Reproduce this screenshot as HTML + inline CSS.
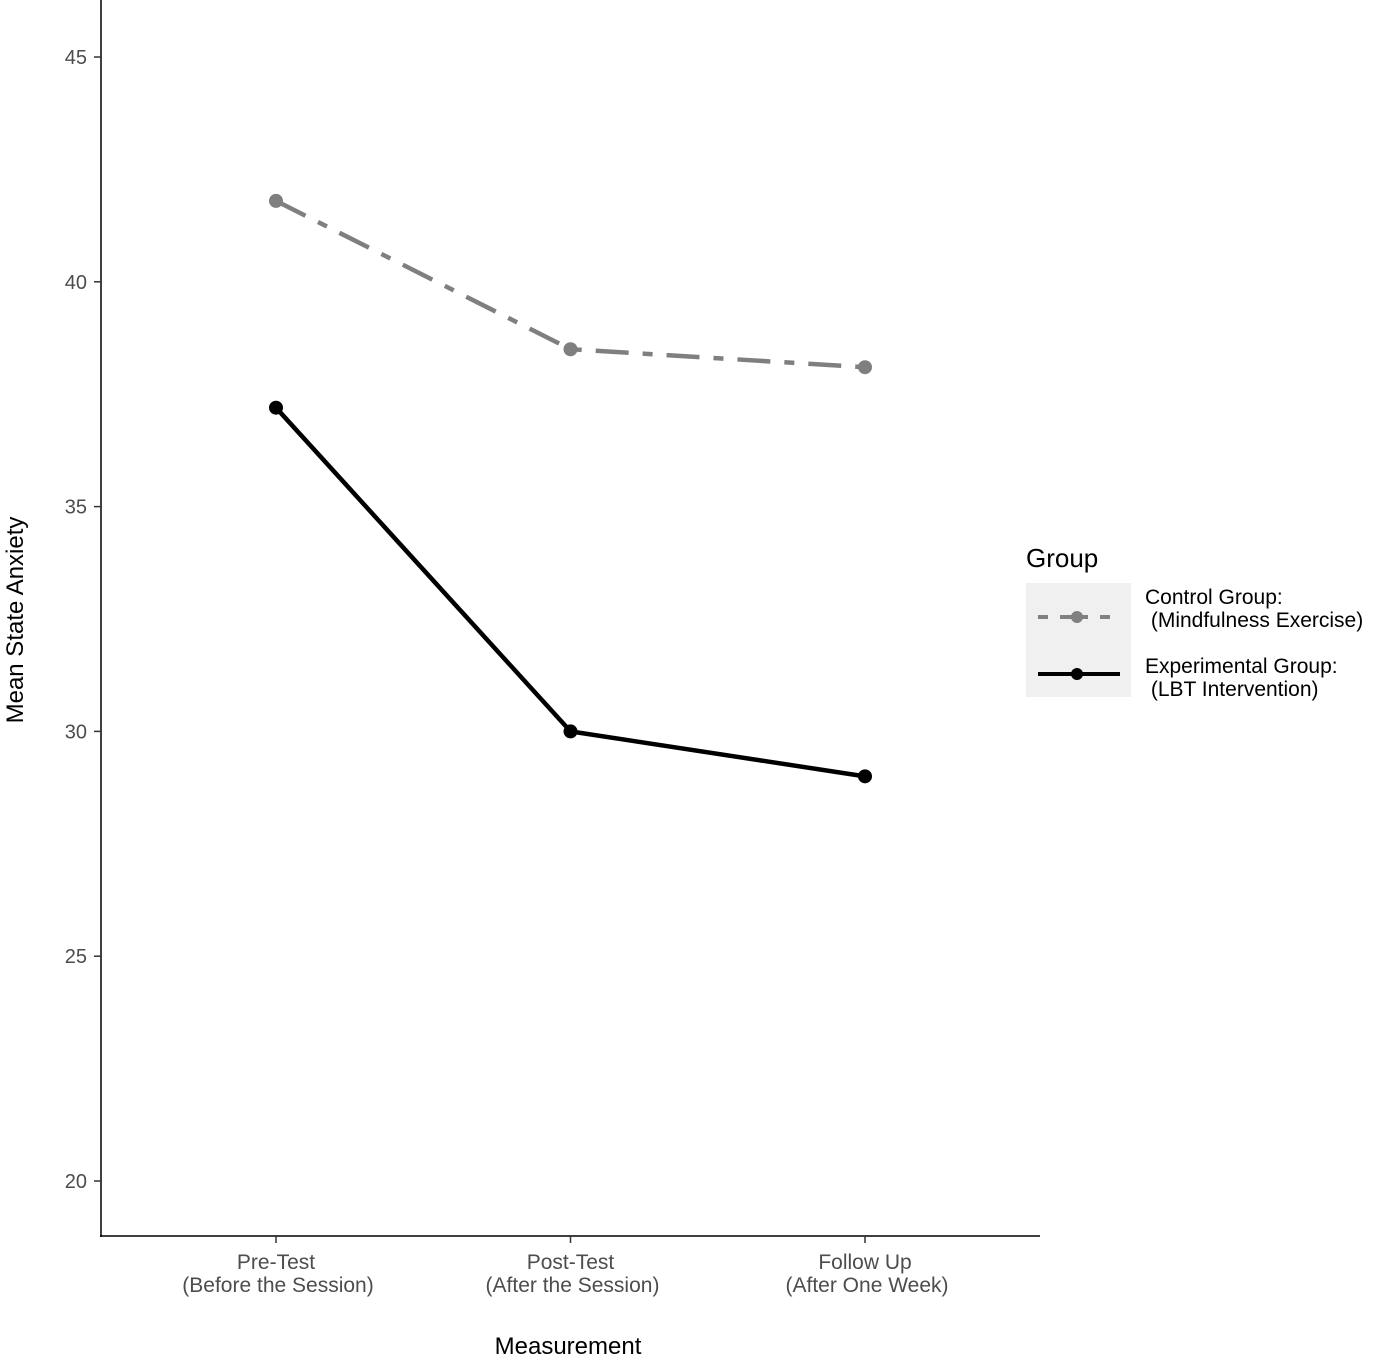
<!DOCTYPE html>
<html><head><meta charset="utf-8"><style>
body{margin:0;background:#fff;}
svg{display:block;font-family:"Liberation Sans",sans-serif;}
</style></head><body>
<svg id="chart" width="1381" height="1356">
<g id="axes"></g>
<g id="series"></g>
<text x="568" y="1354" font-size="24" text-anchor="middle" fill="#000">Measurement</text>
<text transform="translate(23,620) rotate(-90)" font-size="24" text-anchor="middle" fill="#000">Mean State Anxiety</text>
<g>
<text x="1026" y="567" font-size="26" fill="#000">Group</text>
<rect x="1026" y="583" width="105" height="114" fill="#f0f0f0"/>
<g>
<line x1="1038" y1="617" x2="1120" y2="617" stroke="#808080" stroke-width="4" stroke-dasharray="10 12 28 12 10"/>
<circle cx="1077" cy="617" r="6" fill="#808080"/>
<text x="1145" y="604" font-size="21" fill="#000">Control Group:</text>
<text x="1145" y="627" font-size="21" fill="#000" xml:space="preserve"> (Mindfulness Exercise)</text>
</g>
<g>
<line x1="1038" y1="674" x2="1120" y2="674" stroke="#000" stroke-width="4"/>
<circle cx="1077" cy="674" r="6" fill="#000"/>
<text x="1145" y="673" font-size="21" fill="#000">Experimental Group:</text>
<text x="1145" y="696" font-size="21" fill="#000" xml:space="preserve"> (LBT Intervention)</text>
</g>
</g>
</svg>
<script>
const categories=["Pre-Test","Post-Test","Follow Up"];
const categorySub=["(Before the Session)","(After the Session)","(After One Week)"];
const controlValues=[41.8,38.5,38.1];
const experimentalValues=[37.2,30.0,29.0];
const yTicks=[20,25,30,35,40,45];

const NS="http://www.w3.org/2000/svg";
function y(v){return 1181-(v-20)*(1181-57)/25;}
function x(i){return 276+i*294.5;}
function mk(tag,attrs,parent){const e=document.createElementNS(NS,tag);for(const k in attrs)e.setAttribute(k,attrs[k]);parent.appendChild(e);return e;}
const axes=document.getElementById('axes'), series=document.getElementById('series');
let e=mk('line',{x1:101,y1:0,x2:101,y2:1237,stroke:'#000','stroke-width':1.5},axes);


e=mk('line',{x1:100,y1:1236,x2:1040,y2:1236,stroke:'#000','stroke-width':1.5},axes);


yTicks.forEach(t=>{
  const tk=mk('line',{x1:94,x2:101,y1:y(t),y2:y(t),stroke:'#333','stroke-width':1.5},axes);
  
  
  const tx=mk('text',{x:87,y:y(t)+7,'font-size':20,'text-anchor':'end',fill:'#4d4d4d'},axes);
  tx.textContent=t;
  
  
});
categories.forEach((c,i)=>{
  const tk=mk('line',{x1:x(i),x2:x(i),y1:1236,y2:1243,stroke:'#333','stroke-width':1.5},axes);
  
  
  const t1=mk('text',{x:x(i),y:1269,'font-size':21,'text-anchor':'middle',fill:'#4d4d4d'},axes);
  t1.textContent=c;
  
  
  const t2=mk('text',{x:x(i)+2,y:1292,'font-size':21,'text-anchor':'middle',fill:'#4d4d4d'},axes);
  t2.textContent=categorySub[i];
  
  
});
function draw(vals,color,dash,name){
  const pts=vals.map((v,i)=>x(i)+','+y(v)).join(' ');
  const attrs={points:pts,fill:'none',stroke:color,'stroke-width':4.5,'stroke-linejoin':'round'};
  if(dash)attrs['stroke-dasharray']=dash;
  const pl=mk('polyline',attrs,series);
  
  
  vals.forEach((v,i)=>{
    const c=mk('circle',{cx:x(i),cy:y(v),r:7,fill:color},series);
    
    
  });
}
draw(controlValues,'#7f7f7f','33 14 10 14','control-group');
draw(experimentalValues,'#000','', 'experimental-group');
</script>
</body></html>
